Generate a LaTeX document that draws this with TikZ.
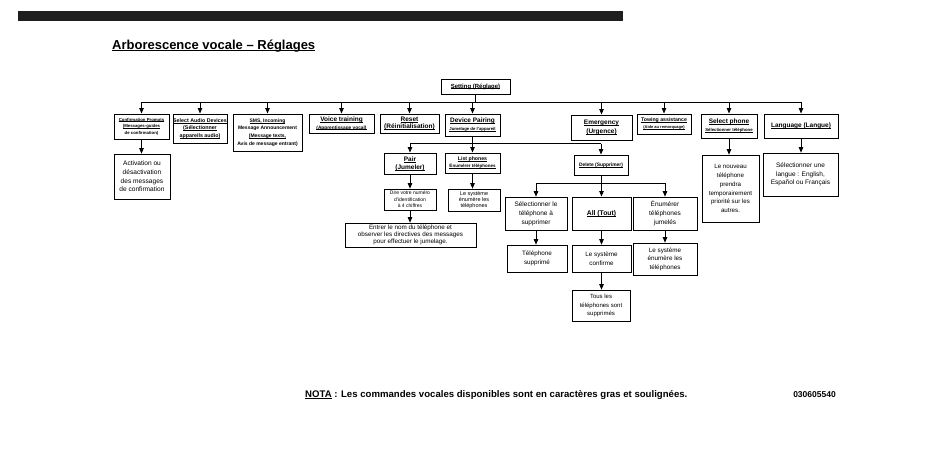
\documentclass[tikz,border=0pt]{standalone}
\usepackage{fontspec}
\setmainfont{Liberation Sans}
\usetikzlibrary{arrows.meta}
\newcommand\fsz[2]{\fontsize{#1}{#2}\selectfont}
\newcommand\ul[1]{\setbox0\hbox{#1}\rlap{\rule[-0.13em]{\wd0}{0.07em}}\box0\relax}
\newcommand\bx[7]{\node[#6, minimum width={(#4-#2)*1pt}, minimum height={(#5-#3)*1pt}] (#1) at ({(#2+#4)/2},{(#3+#5)/2}) {#7};}
\tikzset{
  cmd/.style 2 args={draw, line width=1pt, inner sep=0pt, align=center, font=\fontsize{#1}{#2}\selectfont\bfseries},
  desc/.style 2 args={draw, line width=0.7pt, inner sep=0pt, align=center, font=\fontsize{#1}{#2}\selectfont},
  arr/.style={-{Triangle[length=5.5pt,width=4.5pt]}, line width=0.8pt},
  ln/.style={line width=0.8pt},
}
\begin{document}
\begin{tikzpicture}[x=1pt,y=-1pt]
\useasboundingbox (0,0) rectangle (950,469);
\fill[black!88] (18,11) rectangle (623,21);
\node[anchor=base west, inner sep=0pt, font=\fsz{13}{15}\bfseries] (title) at (112,49) {\ul{Arborescence vocale – Réglages}};

% root
\bx{set}{441}{79}{510}{94}{cmd={6}{7}}{\ul{Setting (Réglage)}}

% top row
\bx{cp}{114}{114}{169}{139}{cmd={4.3}{6.5}}{\ul{Confirmation Prompts}\\\ul{(Messages-guides}\\de confirmation)}
\bx{sad}{173}{114}{227}{143}{cmd={5.3}{7.5}}{\ul{Select Audio Devices}\\\ul{(Sélectionner}\\\ul{appareils audio)}}
\bx{sms}{233}{114}{302}{151}{cmd={5}{7.6}}{\ul{SMS, Incoming}\\Message Announcement\\\ul{(Message texts,}\\Avis de message entrant)}
\bx{vt}{309}{114}{374}{133}{cmd={6.5}{7.5}}{\ul{Voice training}\\\fsz{4.8}{6}\ul{(Apprentissage vocal)}}
\bx{rst}{380}{114}{439}{133}{cmd={6.5}{7.8}}{\ul{Reset}\\\ul{(Réinitialisation)}}
\bx{dp}{445}{114}{500}{136}{cmd={6.5}{8}}{\ul{Device Pairing}\\\fsz{4.3}{6}\ul{Jumelage de l'appareil}}
\bx{emg}{571}{115}{632}{140}{cmd={6.5}{8.4}}{\ul{Emergency}\\\ul{(Urgence)}}
\bx{tow}{637}{114}{691}{134}{cmd={5.2}{7}}{\ul{Towing assistance}\\\fsz{4}{5.5}\ul{(Aide au remorquage)}}
\bx{sp}{701}{114}{757}{138}{cmd={6.5}{8}}{\ul{Select phone}\\\fsz{4.3}{6}\ul{Sélectionner téléphone}}
\bx{lang}{764}{114}{838}{138}{cmd={6.5}{7.8}}{\ul{Language (Langue)}}

\bx{act}{114}{154}{170}{199}{desc={6.6}{8.6}}{Activation ou\\désactivation\\des messages\\de confirmation}
\bx{spd}{702}{155}{759}{222}{desc={6.2}{8.8}}{Le nouveau\\téléphone\\prendra\\temporairement\\priorité sur les\\autres.}
\bx{langd}{763}{153}{838}{196}{desc={6.5}{8.6}}{Sélectionner une\\langue : English,\\Español ou Français}

% device pairing subtree
\bx{pair}{384}{153}{436}{174}{cmd={6.5}{8}}{\ul{Pair}\\\ul{(Jumeler)}}
\bx{lp}{445}{153}{500}{173}{cmd={5.2}{7}}{\ul{List phones}\\\fsz{4.5}{6}\ul{Énumérer téléphones}}
\bx{del}{574}{155}{628}{175}{cmd={4.9}{6}}{\ul{Delete (Supprimer)}}

\bx{dire}{384}{189}{436}{210}{desc={5}{6.4}}{Dire votre numéro\\d'identification\\à 4 chiffres}
\bx{lpd}{448}{189}{500}{211}{desc={5.5}{6.4}}{Le système\\énumère les\\téléphones}
\bx{entr}{345}{223}{476}{247}{desc={6.3}{7.2}}{Entrer le nom du téléphone et\\observer les directives des messages\\pour effectuer le jumelage.}

\bx{sel}{505}{197}{567}{230}{desc={6.5}{8.8}}{Sélectionner le\\téléphone à\\supprimer}
\bx{all}{572}{197}{631}{230}{cmd={6.8}{8}}{\ul{All (Tout)}}
\bx{enum}{633}{197}{697}{230}{desc={6.5}{8.8}}{Énumérer\\téléphones\\jumelés}

\bx{tsup}{507}{245}{567}{272}{desc={6.3}{8.8}}{Téléphone\\supprimé}
\bx{conf}{572}{245}{631}{272}{desc={6.3}{8.8}}{Le système\\confirme}
\bx{enumd}{633}{243}{697}{275}{desc={6.3}{8.6}}{Le système\\énumère les\\téléphones}
\bx{tous}{572}{290}{630}{321}{desc={6}{8.6}}{Tous les\\téléphones sont\\supprimés}

% connectors: top bus
\coordinate (bus1) at (0,102);
\draw[ln] (set.south) -- (set.south |- bus1);
\draw[ln] (cp.north |- bus1) -- (lang.north |- bus1);
\foreach \n in {cp,sad,sms,vt,rst,dp,emg,tow,sp,lang}
  \draw[arr] (\n.north |- bus1) -- (\n.north);

% device pairing bus
\coordinate (bus2) at (0,143.5);
\draw[ln] (dp.south) -- (dp.south |- bus2);
\draw[ln] (pair.north |- bus2) -- (del.north |- bus2);
\foreach \n in {pair,lp,del}
  \draw[arr] (\n.north |- bus2) -- (\n.north);

% delete bus
\coordinate (bus3) at (0,183);
\draw[ln] (del.south) -- (del.south |- bus3);
\draw[ln] (sel.north |- bus3) -- (enum.north |- bus3);
\foreach \n in {sel,all,enum}
  \draw[arr] (\n.north |- bus3) -- (\n.north);

% simple links
\draw[arr] (cp.south) -- (cp.south |- act.north);
\draw[arr] (sp.south) -- (sp.south |- spd.north);
\draw[arr] (lang.south) -- (lang.south |- langd.north);
\draw[arr] (pair.south) -- (pair.south |- dire.north);
\draw[arr] (lp.south) -- (lp.south |- lpd.north);
\draw[arr] (dire.south) -- (dire.south |- entr.north);
\draw[arr] (sel.south) -- (sel.south |- tsup.north);
\draw[arr] (all.south) -- (all.south |- conf.north);
\draw[arr] (enum.south) -- (enum.south |- enumd.north);
\draw[arr] (conf.south) -- (conf.south |- tous.north);

% note
\node[anchor=base west, inner sep=0pt, font=\fsz{9.6}{11}\bfseries] (nota) at (305,397) {\ul{NOTA} : Les commandes vocales disponibles sont en caractères gras et soulignées.};
\node[anchor=base east, inner sep=0pt, font=\fsz{8.5}{10}\bfseries] (code) at (836,397) {030605540};
\end{tikzpicture}
\end{document}
